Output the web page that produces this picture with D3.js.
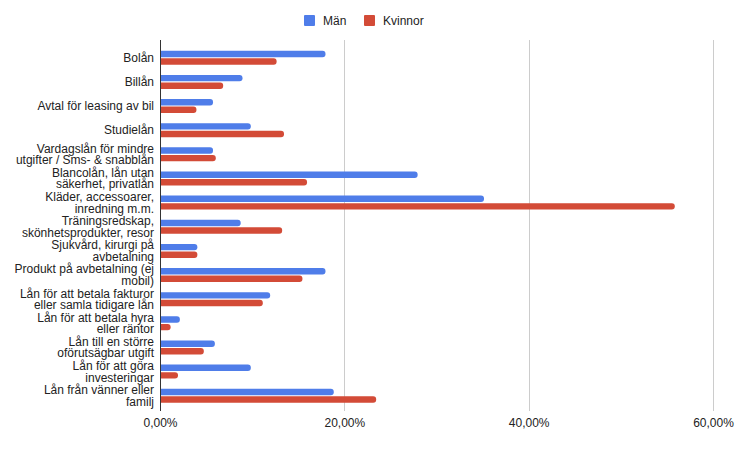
<!DOCTYPE html>
<html>
<head>
<meta charset="UTF-8">
<title>Lån per kön</title>
<script src="https://d3js.org/d3.v7.min.js"></script>
<style>
  body { margin: 0; background: #fff; }
  text { font-family: "Liberation Sans", Arial, sans-serif; fill: #222; }
</style>
</head>
<body>
<script>
// DATA
var categories = [
  "Bolån",
  "Billån",
  "Avtal för leasing av bil",
  "Studielån",
  "Vardagslån för mindre\nutgifter / Sms- & snabblån",
  "Blancolån, lån utan\nsäkerhet, privatlån",
  "Kläder, accessoarer,\ninredning m.m.",
  "Träningsredskap,\nskönhetsprodukter, resor",
  "Sjukvård, kirurgi på\navbetalning",
  "Produkt på avbetalning (ej\nmobil)",
  "Lån för att betala fakturor\neller samla tidigare lån",
  "Lån för att betala hyra\neller räntor",
  "Lån till en större\noförutsägbar utgift",
  "Lån för att göra\ninvesteringar",
  "Lån från vänner eller\nfamilj"
];
var series = ["Män", "Kvinnor"];
var man     = [0.179, 0.089, 0.057, 0.098, 0.057, 0.279, 0.351, 0.087, 0.040, 0.179, 0.119, 0.021, 0.059, 0.098, 0.188];
var kvinnor = [0.126, 0.068, 0.039, 0.134, 0.060, 0.159, 0.558, 0.132, 0.040, 0.154, 0.111, 0.011, 0.047, 0.019, 0.234];
var xTicks = [0, 0.2, 0.4, 0.6];
var colors = ["#4f7de9", "#d34b37"];

var width = 736, height = 449;
var plotTop = 40, plotBottom = 411;

var svg = d3.select("body").append("svg")
    .attr("width", width)
    .attr("height", height);

// SCALES
var x = d3.scaleLinear().domain([0, 0.6]).range([160.5, 713.5]);
var y = d3.scaleBand().domain(categories).range([45.7, 407.8]);
var y1 = d3.scaleBand().domain(series)
    .range([y.bandwidth() / 2 - 7, y.bandwidth() / 2 + 7])
    .paddingInner(0.15);
var color = d3.scaleOrdinal().domain(series).range(colors);

var locale = d3.formatLocale({decimal: ",", thousands: " ", grouping: [3], currency: ["", " kr"]});
var pct = locale.format(".2%");

// GRIDLINES
svg.append("g").selectAll("line")
    .data(xTicks.filter(function (d) { return d > 0; }))
    .join("line")
    .attr("x1", function (d) { return Math.floor(x(d)) + 0.5; })
    .attr("x2", function (d) { return Math.floor(x(d)) + 0.5; })
    .attr("y1", plotTop)
    .attr("y2", plotBottom)
    .attr("stroke", "#cccccc")
    .attr("stroke-width", 1);

// X AXIS LABELS
svg.append("g").selectAll("text")
    .data(xTicks)
    .join("text")
    .attr("x", function (d) { return x(d); })
    .attr("y", 427)
    .attr("text-anchor", "middle")
    .style("font-size", "12px")
    .text(function (d) { return pct(d); });

// BARS (right end rounded)
var rows = categories.map(function (c, i) {
  return {cat: c, values: [{s: series[0], v: man[i]}, {s: series[1], v: kvinnor[i]}]};
});

var groups = svg.append("g").selectAll("g")
    .data(rows)
    .join("g")
    .attr("transform", function (d) { return "translate(0," + y(d.cat) + ")"; });

function barPath(d) {
  var x0 = x(0), x1 = x(d.v), y0 = y1(d.s), h = y1.bandwidth();
  var r = Math.min(3, h / 2, (x1 - x0) / 2);
  return "M" + x0 + "," + y0 +
    "H" + (x1 - r) +
    "Q" + x1 + "," + y0 + " " + x1 + "," + (y0 + r) +
    "V" + (y0 + h - r) +
    "Q" + x1 + "," + (y0 + h) + " " + (x1 - r) + "," + (y0 + h) +
    "H" + x0 + "Z";
}

groups.selectAll("path")
    .data(function (d) { return d.values; })
    .join("path")
    .attr("d", barPath)
    .attr("fill", function (d) { return color(d.s); });

// CATEGORY LABELS
var lineH = 11.5;
groups.append("text")
    .attr("text-anchor", "end")
    .style("font-size", "12px")
    .each(function (d) {
      var lines = d.cat.split("\n");
      var t = d3.select(this);
      lines.forEach(function (l, i) {
        t.append("tspan")
          .attr("x", 154)
          .attr("y", y.bandwidth() / 2 + (i - (lines.length - 1) / 2) * lineH)
          .attr("dy", "0.35em")
          .text(l);
      });
    });

// Y AXIS LINE
svg.append("line")
    .attr("x1", x(0))
    .attr("x2", x(0))
    .attr("y1", plotTop)
    .attr("y2", plotBottom)
    .attr("stroke", "#333")
    .attr("stroke-width", 1);

// LEGEND
var legendX = [304, 364];
var legend = svg.append("g").selectAll("g")
    .data(series)
    .join("g")
    .attr("transform", function (d, i) { return "translate(" + legendX[i] + ",15)"; });
legend.append("rect")
    .attr("width", 11)
    .attr("height", 11)
    .attr("rx", 1)
    .attr("fill", function (d) { return color(d); });
legend.append("text")
    .attr("x", 19)
    .attr("y", 5.5)
    .attr("dy", "0.35em")
    .style("font-size", "12px")
    .text(function (d) { return d; });
</script>
</body>
</html>
